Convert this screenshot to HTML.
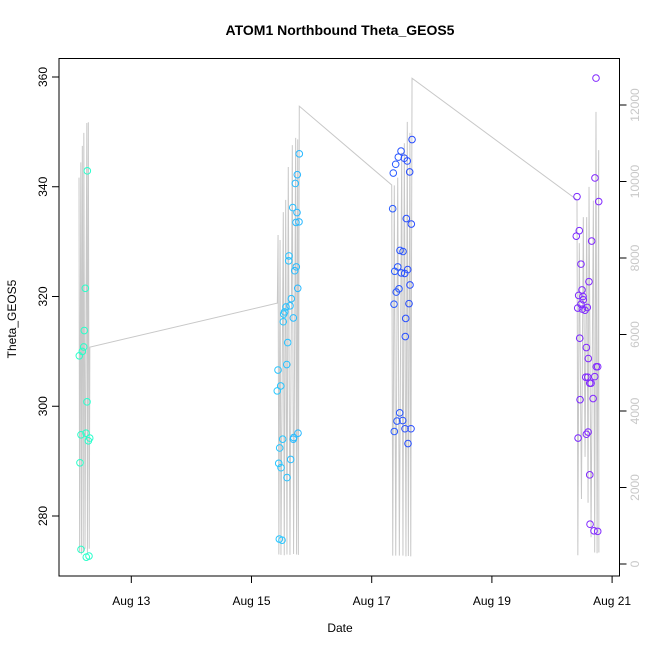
<!DOCTYPE html>
<html><head><meta charset="utf-8"><style>
html,body{margin:0;padding:0;background:#fff;}
svg{display:block;font-family:"Liberation Sans",Arial,sans-serif;}
</style></head><body>
<svg id="chart" width="650" height="650" viewBox="0 0 650 650">
<text x="340" y="35" text-anchor="middle" font-size="14" font-weight="bold">ATOM1 Northbound Theta_GEOS5</text>
<text x="340" y="632" text-anchor="middle" font-size="12">Date</text>
<text x="0" y="0" transform="translate(16,319) rotate(-90)" text-anchor="middle" font-size="12">Theta_GEOS5</text>
<g id="lineLayer"></g>
<g id="pointLayer"></g>
<g id="axes"></g>
<rect x="59" y="58.5" width="560.5" height="517.5" fill="none" stroke="#000" stroke-width="1"/>
</svg>
<script>
// ---- data ----
var pointTimes = [
12.268,12.235,12.218,12.208,12.185,12.135,12.263,12.246,12.163,12.308,12.285,12.146,12.163,12.251,12.296,
15.795,15.762,15.729,15.686,15.757,15.740,15.790,15.624,15.619,15.745,15.719,15.769,15.662,15.574,15.641,15.552,15.536,15.696,15.529,15.602,15.586,15.441,15.486,15.429,15.774,15.519,15.702,15.696,15.469,15.652,15.453,15.491,15.591,15.463,15.508,
17.671,17.488,17.443,17.542,17.592,17.399,17.359,17.632,17.349,17.576,17.659,17.471,17.521,17.433,17.383,17.599,17.493,17.549,17.637,17.454,17.409,17.371,17.621,17.566,17.559,17.466,17.421,17.516,17.376,17.554,17.654,17.604,
20.732,20.715,20.777,20.416,20.404,20.454,20.660,20.482,20.615,20.499,20.444,20.516,20.482,20.521,20.428,20.504,20.549,20.587,20.461,20.571,20.604,20.737,20.760,20.561,20.594,20.711,20.628,20.650,20.467,20.684,20.434,20.572,20.600,20.628,20.633,20.699,20.760
];
var thetaValues = [
342.9,321.5,313.8,310.8,310.0,309.2,300.8,295.1,294.8,294.2,293.7,289.7,273.9,272.5,272.7,
346.0,342.2,340.6,336.2,335.3,333.5,333.6,327.4,326.5,325.4,324.7,321.5,319.6,318.1,318.3,317.2,316.8,316.1,315.4,311.6,307.6,306.6,303.7,302.8,295.1,294.0,294.3,294.0,292.4,290.3,289.6,288.8,287.0,275.8,275.6,
348.6,346.5,345.4,345.2,344.7,344.1,342.5,342.7,336.0,334.2,333.2,328.4,328.2,325.4,324.6,324.9,324.3,324.2,322.1,321.4,320.8,318.6,318.7,316.0,312.7,298.8,297.3,297.4,295.4,295.9,295.9,293.2,
359.8,341.6,337.3,338.2,331.0,332.0,330.1,325.9,322.7,321.2,320.2,320.0,318.6,319.4,317.9,317.7,317.5,318.0,312.4,310.7,308.7,307.2,307.2,305.3,305.3,305.4,304.2,304.2,301.2,301.4,294.2,294.9,295.3,287.5,278.5,277.3,277.2
];
var lineTimes = [
12.13,12.14,12.16,12.17,12.185,12.20,12.21,12.23,12.26,12.27,12.285,12.30,12.31,
15.43,15.442,15.455,15.475,15.49,15.529,15.545,15.569,15.59,15.612,15.64,15.679,15.70,15.735,15.75,15.769,15.78,15.795,
17.333,17.35,17.376,17.40,17.433,17.46,17.499,17.52,17.543,17.57,17.592,17.61,17.636,17.65,17.671,
20.416,20.43,20.454,20.49,20.521,20.55,20.577,20.60,20.616,20.65,20.688,20.71,20.732,20.75,20.777,20.78
];
var lineAlt = [
10100,300,10500,250,10930,300,11270,400,11530,300,11550,400,5670,
6820,8600,250,8470,240,9200,230,9520,250,10380,240,10950,260,11140,250,11100,240,11970,
9910,220,9900,220,10100,220,10750,220,11000,200,11560,210,11270,200,12700,
9520,230,8390,1700,9070,2800,9070,1600,9860,700,9500,300,11820,280,10820,300
];
var yTicks = [280,300,320,340,360];
var altTicks = [0,2000,4000,6000,8000,10000,12000];
var xTickDays = [13,15,17,19,21];
var xTickLabels = ["Aug 13","Aug 15","Aug 17","Aug 19","Aug 21"];

// ---- scales ----
var NS="http://www.w3.org/2000/svg";
function xScale(d){return 131.3+(d-13)*60.1;}
function yScale(v){return 77+(360-v)*5.4875;}
function aScale(a){return 564-a*0.03825;}
function hueFor(t){
  var ts=[12.2,15.6,17.5,20.6], hs=[165,197,228,265];
  if(t<=ts[0])return hs[0];
  for(var i=1;i<ts.length;i++){if(t<=ts[i])return hs[i-1]+(t-ts[i-1])/(ts[i]-ts[i-1])*(hs[i]-hs[i-1]);}
  return hs[hs.length-1];
}
function mk(tag,attrs,parent){var e=document.createElementNS(NS,tag);for(var k in attrs)e.setAttribute(k,attrs[k]);parent.appendChild(e);return e;}

var lineLayer=document.getElementById('lineLayer');
var pts=[];
for(var i=0;i<lineTimes.length;i++){pts.push(xScale(lineTimes[i]).toFixed(2)+','+aScale(lineAlt[i]).toFixed(2));}
var pl=mk('polyline',{points:pts.join(' '),fill:'none',stroke:'#c8c8c8','stroke-width':1},lineLayer);



var pointLayer=document.getElementById('pointLayer');
for(var j=0;j<pointTimes.length;j++){
  var hue=hueFor(pointTimes[j]);
  var c=mk('circle',{cx:xScale(pointTimes[j]).toFixed(2),cy:yScale(thetaValues[j]).toFixed(2),r:3.3,fill:'none',stroke:'hsl('+hue.toFixed(0)+',100%,58%)','stroke-width':1},pointLayer);
  
  
}

var axes=document.getElementById('axes');
yTicks.forEach(function(v){
  var y=yScale(v);
  var t=mk('line',{x1:59,x2:52,y1:y,y2:y,stroke:'#000'},axes);
  
  
  var l=mk('text',{transform:'translate(47,'+y+') rotate(-90)','text-anchor':'middle','font-size':12},axes);
  l.textContent=v;
  
  
});
altTicks.forEach(function(a){
  var y=aScale(a);
  var t=mk('line',{x1:619.5,x2:626.5,y1:y,y2:y,stroke:'#000'},axes);
  
  
  var l=mk('text',{transform:'translate(639,'+y+') rotate(-90)','text-anchor':'middle','font-size':12,fill:'#c8c8c8'},axes);
  l.textContent=a;
  
  
});
xTickDays.forEach(function(d,i){
  var x=xScale(d);
  var t=mk('line',{x1:x,x2:x,y1:576,y2:583,stroke:'#000'},axes);
  
  
  var l=mk('text',{x:x,y:605,'text-anchor':'middle','font-size':12},axes);
  l.textContent=xTickLabels[i];
  
  
});
</script>
</body></html>
